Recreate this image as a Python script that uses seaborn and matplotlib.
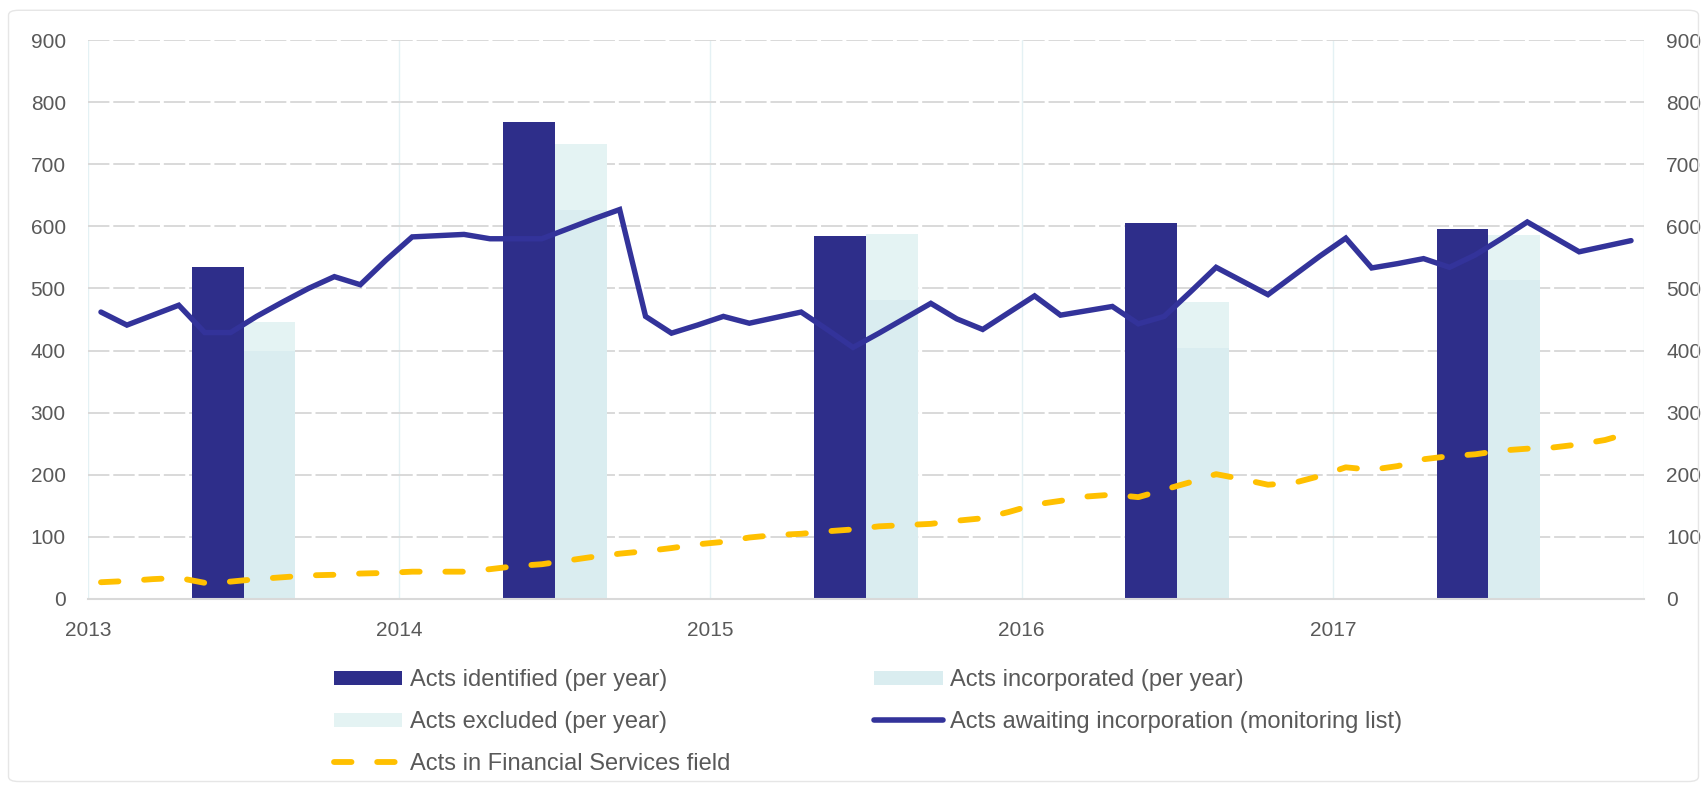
import matplotlib
matplotlib.use("Agg")
import matplotlib.pyplot as plt
import matplotlib.patches as mpatches
from matplotlib.lines import Line2D
import numpy as np
import pandas as pd
import seaborn as sns

# yearly bars
years = ["2013", "2014", "2015", "2016", "2017"]
acts_identified = [535, 768, 585, 606, 596]
acts_incorporated = [400, 626, 482, 404, 514]
acts_excluded = [46, 107, 105, 74, 72]

# monthly series, Jan 2013 - Dec 2017
acts_awaiting = [
    462, 441, 457, 473, 429, 429, 455, 478, 500, 519, 506, 546,
    583, 585, 587, 580, 580, 580, 596, 612, 627, 455, 428, 441,
    455, 444, 453, 462, 434, 405, 428, 452, 476, 451, 434, 461,
    488, 457, 464, 471, 443, 455, 494, 534, 512, 490, 521, 552,
    581, 533, 540, 548, 534, 554, 580, 607, 583, 559, 568, 577,
]
acts_fin_services = [
    27, 29, 32, 34, 26, 28, 32, 35, 38, 39, 41, 42,
    44, 44, 44, 48, 53, 56, 62, 68, 73, 77, 82, 88,
    92, 99, 103, 105, 109, 112, 117, 119, 121, 126, 130, 140,
    152, 158, 165, 168, 164, 176, 188, 201, 193, 184, 187, 198,
    212, 208, 214, 225, 230, 233, 239, 242, 244, 249, 256, 268,
]

NAVY = "#2E2E8A"
LINE_NAVY = "#33339A"
INCORP = "#DAEDF0"
EXCL = "#E4F3F3"
GOLD = "#FFC000"
TEXT = "#595959"

sns.set_theme(style="white")
plt.rcParams["font.family"] = ["Liberation Sans", "DejaVu Sans"]

months = np.arange(len(acts_awaiting)) + 0.5
df_month = pd.DataFrame({
    "month": months,
    "awaiting": acts_awaiting,
    "fin": acts_fin_services,
})

fig = plt.figure(figsize=(17.07, 7.91), dpi=100)
ax = fig.add_axes([88 / 1707, 1 - 599 / 791, (1644 - 88) / 1707, (599 - 40) / 791])

# bars: identified occupies months 4-6, incorporated/excluded months 6-8
year_start = np.arange(len(years)) * 12
ax.bar(year_start + 5, acts_identified, width=2, color=NAVY, linewidth=0, zorder=2)
ax.bar(year_start + 7, acts_incorporated, width=2, color=INCORP, linewidth=0, zorder=2)
ax.bar(year_start + 7, acts_excluded, width=2, bottom=acts_incorporated,
       color=EXCL, linewidth=0, zorder=2)

sns.lineplot(data=df_month, x="month", y="awaiting", ax=ax, color=LINE_NAVY,
             linewidth=3.9, zorder=4, solid_joinstyle="miter")
sns.lineplot(data=df_month, x="month", y="fin", ax=ax, color=GOLD,
             linewidth=4.2, linestyle=(0, (3.0, 4.4)), dash_capstyle="round",
             zorder=4)

ax.set_xlim(0, 60)
ax.set_ylim(0, 900)
ax.set_xlabel("")
ax.set_ylabel("")

# grid
ax.set_yticks(range(0, 901, 100))
for v in range(100, 901, 100):
    ax.axhline(v, color="#D9D9D9", linewidth=1.4, linestyle=(0, (11, 2)), zorder=1)
for x in range(0, 61, 12):
    ax.axvline(x, color="#E4F1F4", linewidth=1.0, zorder=0)

ax.set_xticks(year_start)
ax.set_xticklabels(years)
ax.tick_params(axis="x", length=0, pad=16, labelsize=15, labelcolor=TEXT)
ax.tick_params(axis="y", length=0, pad=16, labelsize=15, labelcolor=TEXT,
               labelright=True)

for side in ["top", "left", "right"]:
    ax.spines[side].set_visible(False)
ax.spines["bottom"].set_color("#D9D9D9")
ax.spines["bottom"].set_linewidth(1.5)

handles = [
    mpatches.Patch(facecolor=NAVY, linewidth=0),
    mpatches.Patch(facecolor=EXCL, linewidth=0),
    Line2D([], [], color=GOLD, linewidth=4.2, linestyle=(0, (3.0, 4.4)),
           dash_capstyle="round"),
    mpatches.Patch(facecolor=INCORP, linewidth=0),
    Line2D([], [], color=LINE_NAVY, linewidth=4.0, solid_capstyle="round"),
]
labels = [
    "Acts identified (per year)",
    "Acts excluded (per year)",
    "Acts in Financial Services field",
    "Acts incorporated (per year)",
    "Acts awaiting incorporation (monitoring list)",
]
fig.legend(handles, labels, loc="upper left", bbox_to_anchor=(334 / 1707, 1 - 669 / 791),
           ncol=2, frameon=False, fontsize=17, labelcolor=TEXT,
           handlelength=2.9, handleheight=0.55, handletextpad=0.32,
           columnspacing=6.1, labelspacing=0.85, borderpad=0, borderaxespad=0)

border = mpatches.FancyBboxPatch((0.005, 0.012), 0.99, 0.975,
                                 boxstyle="round,pad=0,rounding_size=0.006",
                                 transform=fig.transFigure, fill=False,
                                 edgecolor="#E6E6E6", linewidth=1.0)
fig.patches.append(border)

fig.savefig("out.png", dpi=100)
